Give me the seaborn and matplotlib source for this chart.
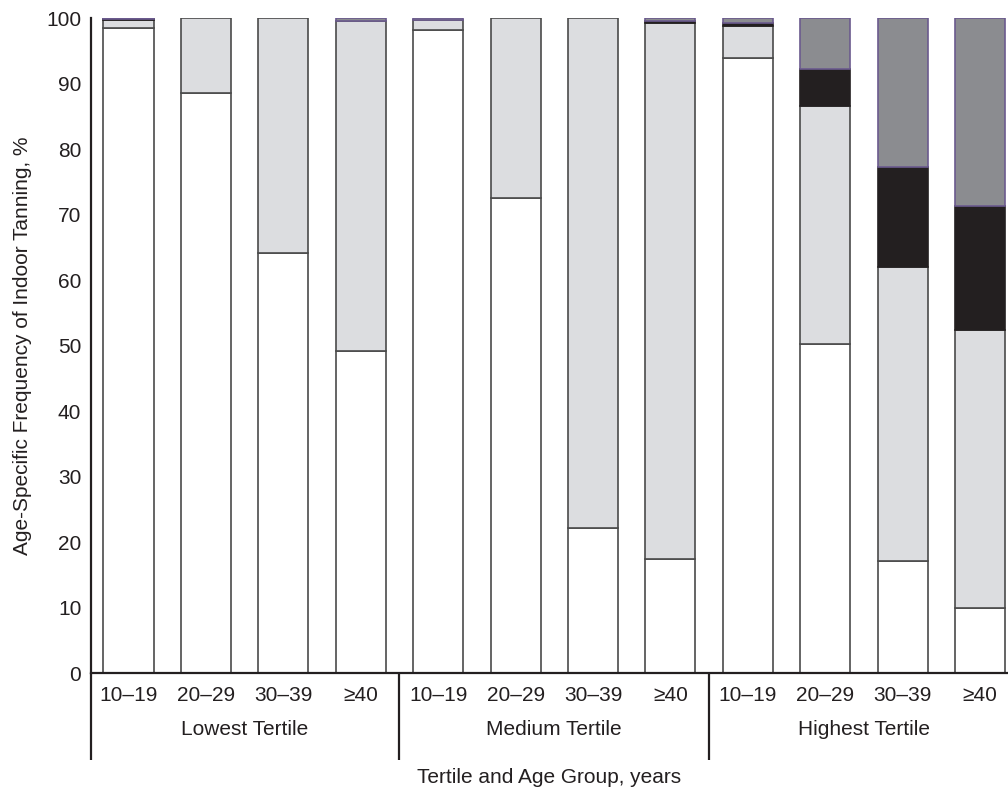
import pandas as pd
import matplotlib
matplotlib.use("Agg")
import matplotlib.pyplot as plt
import seaborn as sns

tertiles = ["Lowest Tertile", "Medium Tertile", "Highest Tertile"]
ages = ["10\u201319", "20\u201329", "30\u201339", "\u226540"]

# frequency categories, stacked bottom to top (% of each age group)
white = [98.4, 88.5, 64.1, 49.2, 98.2, 72.5, 22.1, 17.4, 93.9, 50.3, 17.1, 9.9]
light = [1.3, 11.5, 35.9, 50.4, 1.5, 27.5, 77.9, 81.9, 4.9, 36.3, 44.9, 42.5]
black = [0.1, 0.0, 0.0, 0.0, 0.0, 0.0, 0.0, 0.3, 0.4, 5.6, 15.2, 18.9]
dark = [0.2, 0.0, 0.0, 0.4, 0.3, 0.0, 0.0, 0.4, 0.8, 7.8, 22.8, 28.7]

keys = [f"{t}|{a}" for t in tertiles for a in ages]
series = [("white", white, "#ffffff", "#4a4a4a"),
          ("light", light, "#dcdde0", "#4a4a4a"),
          ("black", black, "#231f20", "#231f20"),
          ("dark", dark, "#8b8c90", "#6b5a8e")]

sns.set_style("white")
plt.rcParams["font.family"] = ["Liberation Sans", "DejaVu Sans"]

fig = plt.figure(figsize=(10.08, 7.90), dpi=100)
ax = fig.add_axes([0.0903, 0.1481, 0.9097, 0.8291])

bottom = [0.0] * len(keys)
for name, vals, fc, ec in series:
    df = pd.DataFrame({"key": keys, "val": vals, "bottom": bottom})
    df = df[df["val"] > 0]
    sns.barplot(data=df, x="key", y="val", order=keys, bottom=df["bottom"].values,
                color=fc, edgecolor=ec, linewidth=1.2, width=0.646,
                saturation=1, errorbar=None, ax=ax)
    bottom = [b + v for b, v in zip(bottom, vals)]

ax.set_xlim(-0.484, 11.36)
ax.set_ylim(0, 100)
ax.set_yticks(range(0, 101, 10))
ax.set_xticks(range(len(keys)))
ax.set_xticklabels(ages * 3)
ax.tick_params(axis="both", length=0, labelsize=15, colors="#231f20")
ax.tick_params(axis="x", pad=9)
ax.tick_params(axis="y", pad=7)

for s in ["top", "right"]:
    ax.spines[s].set_visible(False)
for s in ["left", "bottom"]:
    ax.spines[s].set_color("#231f20")
    ax.spines[s].set_linewidth(1.6)

# group separators below the axis
trans = ax.get_xaxis_transform()
for xpos in [-0.484, 3.5, 7.5]:
    ax.plot([xpos, xpos], [0, -0.133], transform=trans, color="#231f20",
            lw=1.6, clip_on=False, solid_capstyle="butt")
for i, t in enumerate(tertiles):
    ax.text(i * 4 + 1.5, -0.087, t, transform=trans, ha="center", va="center",
            fontsize=15, color="#231f20")

ax.set_xlabel("Tertile and Age Group, years", fontsize=15, color="#231f20", labelpad=46)
ax.set_ylabel("Age-Specific Frequency of Indoor Tanning, %", fontsize=15,
              color="#231f20", labelpad=10)

fig.savefig("out.png", dpi=100)
